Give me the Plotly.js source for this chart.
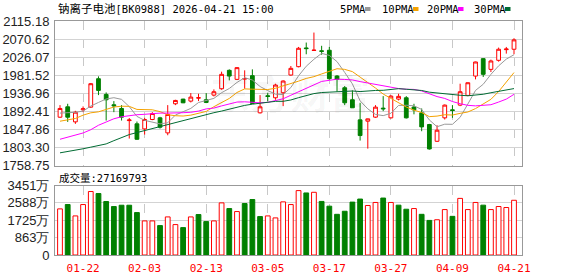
<!DOCTYPE html>
<html>
<head>
<meta charset="utf-8">
<script src="https://cdn.plot.ly/plotly-3.0.1.min.js"></script>
<style>html,body{margin:0;padding:0;background:#fff;}#chart{width:578px;height:276px;}</style>
</head>
<body>
<div id="chart"></div>
<script>
// ---------- data ----------
const dates = ['01-19','01-20','01-21','01-22','01-23','01-26','01-27','01-28','01-29','01-30',
  '02-02','02-03','02-04','02-05','02-06','02-09','02-10','02-11','02-12','02-13',
  '02-24','02-25','02-26','02-27','03-02','03-03','03-04','03-05','03-06','03-09',
  '03-10','03-11','03-12','03-13','03-16','03-17','03-18','03-19','03-20','03-23',
  '03-24','03-25','03-26','03-27','03-30','03-31','04-01','04-02','04-03','04-07',
  '04-08','04-09','04-10','04-13','04-14','04-15','04-16','04-17','04-20','04-21'];
const opens = [1877.9,1903.5,1866.4,1896.1,1902.7,1972.8,1934.1,1908.5,1899.4,1869.5,
  1861.5,1849.0,1872.2,1876.3,1839.2,1911.0,1922.5,1917.6,1925.0,1920.9,
  1932.4,1948.1,1993.5,1971.2,1972.0,1980.3,1888.7,1930.8,1925.8,1938.2,
  1981.9,2002.5,2048.7,2042.5,2041.5,2043.0,1979.4,1950.6,1920.9,1871.3,
  1868.1,1878.0,1900.2,1876.3,1922.5,1925.8,1903.0,1888.7,1859.8,1818.5,
  1876.3,1896.1,1907.7,1931.6,1979.4,2022.3,1995.9,2018.2,2044.5,2045.5];
const highs = [1907.7,1911.0,1893.6,1904.4,1962.1,1978.6,1939.0,1917.6,1907.7,1876.0,
  1867.2,1876.3,1890.3,1878.8,1907.7,1920.9,1923.3,1937.4,1935.7,1937.4,
  1946.4,1990.2,1995.9,2000.9,1993.5,1995.9,1932.4,1938.2,1960.5,1968.7,
  2004.2,2051.2,2062.0,2086.7,2054.0,2051.2,1981.9,1954.7,1944.0,1913.4,
  1874.5,1907.7,1929.9,1932.4,1935.7,1929.9,1911.0,1899.4,1861.4,1858.1,
  1909.3,1907.7,1960.5,1963.5,2014.9,2023.2,2019.9,2049.6,2051.2,2072.7];
const lows = [1876.3,1866.4,1861.4,1890.3,1901.1,1932.4,1869.7,1890.3,1869.7,1825.2,
  1821.9,1835.0,1870.5,1849.9,1833.4,1907.7,1912.6,1914.3,1917.6,1912.6,
  1929.1,1945.6,1968.7,1969.5,1948.1,1911.0,1887.0,1917.6,1920.9,1905.2,
  1980.3,2000.9,2033.1,2041.3,2032.0,1970.4,1940.7,1907.7,1900.5,1820.2,
  1800.4,1876.3,1892.8,1874.7,1919.2,1874.7,1885.0,1843.3,1797.9,1816.9,
  1872.2,1876.3,1905.2,1929.9,1971.2,1977.0,1989.3,2014.9,2034.7,2033.1];
const closes = [1899.4,1877.9,1890.3,1898.6,1960.5,1944.0,1920.9,1906.0,1877.9,1871.0,
  1823.5,1872.2,1887.0,1853.2,1884.6,1919.2,1913.4,1927.5,1925.8,1914.3,
  1940.7,1983.6,1979.4,2000.1,1973.0,1911.8,1903.5,1929.1,1957.2,1967.1,
  1998.4,2047.9,2047.1,2043.2,2040.4,1972.8,1971.5,1913.4,1901.1,1832.6,
  1873.8,1902.7,1898.6,1929.9,1929.3,1876.3,1896.0,1854.0,1799.6,1845.8,
  1907.7,1894.5,1940.7,1962.9,2014.1,1983.6,2016.6,2045.5,2046.0,2068.6];
// volume in 万 (10k shares); last value = 27169793
const lastVolume = 27169793;
const volumes = [2290,2505,1941,2505,3152,3053,2655,2406,2472,2472,
  2107,1692,1692,1460,1891,1510,1360,1891,2008,1659,
  1692,2588,2306,2157,2555,2754,1908,1941,1842,2638,
  2505,3198,3081,3114,2660,2424,2020,2172,2626,2778,
  2458,2609,2828,2609,2475,2273,2306,2020,1717,1751,
  2256,1919,2811,2256,2609,2475,2256,2407,2357,lastVolume/1e4];
// 1 = red (up), 0 = green (down)
const volUp = [1,0,1,1,1,0,0,0,0,0, 0,1,1,0,1,1,0,1,0,0, 1,1,0,1,0,0,0,1,1,1,
  1,1,0,1,0,0,0,0,0,0, 1,1,0,1,0,0,1,0,0,1, 1,0,1,1,1,0,1,1,1,1];
// moving-average values at the first bars (window reaches before the shown data)
const ma5Lead  = [1888,1889,1890,1893];
const ma10Lead = [1868,1870.5,1874.7,1882.9,1888.7,1891.1,1896.9,1903,1905];
const ma20Lead = [1823.5,1829,1834,1839,1847,1858,1866,1874,1879,1882,1884,1885,1887,1888,1888,1888,1889,1890,1893];
const ma30Lead = [1790,1793,1796,1800,1804,1808,1812,1820,1828,1835,1840,1845,1850,1855,1860,1865,1869,1874,1879,1884,1889,1893,1898,1903,1907,1910,1912,1914,1917];
const priceTicks = [1758.75,1803.30,1847.86,1892.41,1936.96,1981.52,2026.07,2070.62,2115.18];
const volTicks = [0,862.75,1725.5,2588.25,3451];
const volTickText = ['0','863万','1725万','2588万','3451万'];
const tickEvery = 8;
const titleName = '钠离子电池';
const titleCode = '[BK0988] 2026-04-21 15:00';

// ---------- helpers ----------
function ma(n, lead){
  return closes.map((c,i)=>{
    if(i < n-1) return lead[i];
    let s=0; for(let k=i-n+1;k<=i;k++) s+=closes[k];
    return s/n;
  });
}
const tickDates = dates.filter((d,i)=> (i+1) % tickEvery === 4 % tickEvery);
const RED='#ff0000', GREEN='#008000';
const maColors = ['#999999','#f5a200','#ff00ff','#006b33'];

// pixel helpers for decoration positions
const W=578,H=276,ML=55,MR=56,MT=21,MB=21;
const px = x => (x-ML)/(W-ML-MR);
const py = y => (H-MB-y)/(H-MT-MB);

const traces = [];
traces.push({
  type:'candlestick', x:dates, open:opens, high:highs, low:lows, close:closes,
  xaxis:'x', yaxis:'y',
  increasing:{line:{color:RED,width:1}, fillcolor:'#ffffff'},
  decreasing:{line:{color:GREEN,width:1}, fillcolor:GREEN},
  whiskerwidth:0, hoverinfo:'skip', showlegend:false
});
[[5,ma5Lead],[10,ma10Lead],[20,ma20Lead],[30,ma30Lead]].forEach((p,j)=>{
  traces.push({type:'scatter',mode:'lines',x:dates,y:ma(p[0],p[1]),xaxis:'x',yaxis:'y',
    line:{color:maColors[j],width:1},hoverinfo:'skip',showlegend:false});
});
traces.push({
  type:'bar', x:dates, y:volumes, xaxis:'x2', yaxis:'y2', width:0.62,
  marker:{color:volUp.map(u=>u?'#ffffff':GREEN), line:{color:volUp.map(u=>u?RED:GREEN), width:1}},
  hoverinfo:'skip', showlegend:false
});

const gridCol='#d3d3d3', boxCol='#999999';
const axisFont={family:'Liberation Sans, Arial, sans-serif', size:13, color:'#222'};
const layout = {
  width:W, height:H, margin:{l:ML,r:MR,t:MT,b:MB,pad:0},
  paper_bgcolor:'#fff', plot_bgcolor:'#fff', showlegend:false, dragmode:false,
  bargap:0,
  xaxis:{type:'category', domain:[0,1], anchor:'y', range:[-0.65,60.04], rangeslider:{visible:false},
    showticklabels:false, tickvals:tickDates, ticks:'', showgrid:true, gridcolor:'#c8c8c8', griddash:'dash',
    showline:true, mirror:true, linecolor:boxCol, linewidth:1, zeroline:false, fixedrange:true},
  yaxis:{domain:[py(165.5),1], range:[priceTicks[0],priceTicks[priceTicks.length-1]], tickvals:priceTicks,
    ticktext:priceTicks.map(v=>v.toFixed(2)), tickfont:axisFont, ticks:'', showgrid:true, gridcolor:gridCol,
    showline:true, mirror:true, linecolor:boxCol, zeroline:false, fixedrange:true, ticklabelstandoff:2},
  xaxis2:{type:'category', domain:[0,1], anchor:'y2', matches:'x', range:[-0.65,60.04],
    tickvals:tickDates, ticktext:tickDates, ticks:'', showgrid:true, gridcolor:'#c8c8c8', griddash:'dash',
    tickfont:{family:'DejaVu Sans Mono, Liberation Mono, monospace', size:11, color:RED},
    showline:true, mirror:true, linecolor:boxCol, zeroline:false, fixedrange:true, ticklabelstandoff:3},
  yaxis2:{domain:[0,py(185.5)], range:[0,3451], tickvals:volTicks, ticktext:volTickText, tickfont:axisFont,
    ticks:'', showgrid:true, gridcolor:gridCol, showline:true, mirror:true, linecolor:boxCol,
    zeroline:false, fixedrange:true, ticklabelstandoff:2},
  annotations:[], shapes:[]
};
const ann = layout.annotations, shp = layout.shapes;
ann.push({xref:'paper',yref:'paper',x:px(290),y:py(92),xanchor:'center',yanchor:'middle',text:'<b>东方财富</b>',showarrow:false,
  font:{family:'Noto Sans CJK SC',size:40,color:'rgba(0,0,0,0.035)'}});
ann.push({xref:'paper',yref:'paper',x:px(56),y:py(8.5),xanchor:'left',yanchor:'middle',showarrow:false,
  text:'<span style="font-family:Noto Sans CJK SC;font-size:11.5px">'+titleName+'</span><span style="font-family:DejaVu Sans Mono;font-size:10.5px">'+titleCode+'</span>',
  font:{family:'DejaVu Sans Mono',size:11,color:'#000'}});
ann.push({xref:'paper',yref:'paper',x:px(57),y:py(177),xanchor:'left',yanchor:'middle',showarrow:false,
  text:'<span style="font-family:Noto Sans CJK SC;font-size:10.5px">成交量</span><span style="font-family:DejaVu Sans Mono;font-size:10.5px">:'+lastVolume+'</span>',
  font:{family:'DejaVu Sans Mono',size:11,color:'#000'}});
const legendItems = [['5PMA',338,365],['10PMA',380,413],['20PMA',425,458],['30PMA',472,505]];
legendItems.forEach((it,j)=>{
  ann.push({xref:'paper',yref:'paper',x:px(it[1]),y:py(8.8),xanchor:'left',yanchor:'middle',showarrow:false,
    text:it[0],font:{family:'DejaVu Sans Mono',size:10.5,color:'#000'}});
  shp.push({type:'rect',xref:'paper',yref:'paper',x0:px(it[2]),x1:px(it[2]+5.5),y0:py(11),y1:py(7),
    fillcolor:maColors[j],line:{width:0}});
});
Plotly.newPlot('chart', traces, layout, {staticPlot:true, displayModeBar:false});
</script>
</body>
</html>
